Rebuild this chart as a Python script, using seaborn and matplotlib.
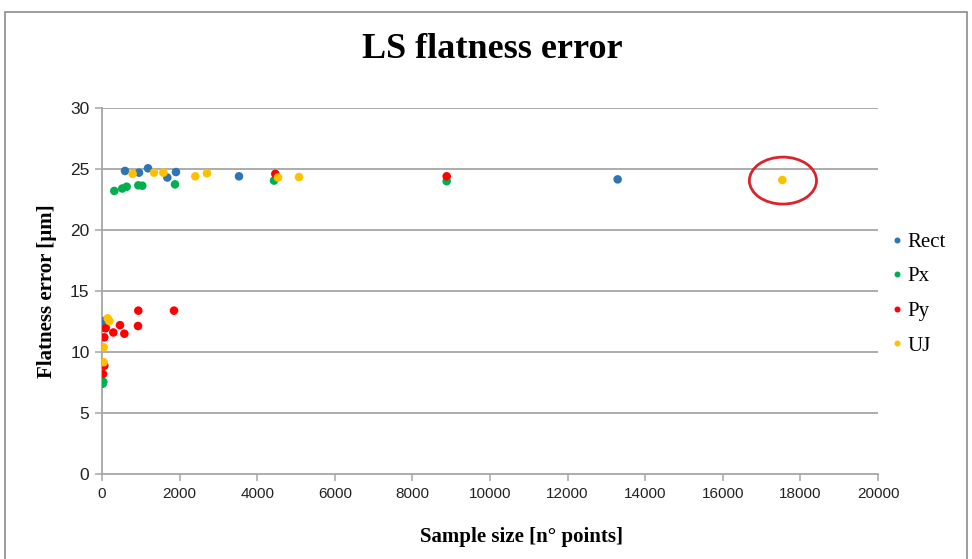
import numpy as np
import pandas as pd
import matplotlib
matplotlib.use("Agg")
import matplotlib.pyplot as plt
from matplotlib.patches import Ellipse, Rectangle
import seaborn as sns

# Sample size [n° points] and LS flatness error [µm] for each sampling strategy
rect_n = [60, 593, 953, 1186, 1684, 1907, 3531, 13290]
rect_err = [12.55, 24.84, 24.7, 25.06, 24.3, 24.75, 24.4, 24.15]

px_n = [20, 34, 100, 317, 523, 636, 936, 1039, 1881, 4433, 8884]
px_err = [7.4, 7.55, 12.0, 23.2, 23.4, 23.55, 23.66, 23.63, 23.74, 24.05, 24.0]

py_n = [26, 60, 60, 86, 292, 464, 576, 928, 936, 1856, 4467, 8884]
py_err = [8.2, 8.88, 11.2, 11.94, 11.6, 12.2, 11.5, 12.13, 13.39, 13.39, 24.6, 24.4]

uj_n = [43, 43, 146, 189, 790, 1340, 1581, 2405, 2706, 4536, 5077, 17534]
uj_err = [9.16, 10.39, 12.76, 12.54, 24.6, 24.7, 24.7, 24.4, 24.65, 24.3, 24.34, 24.1]

series = ["Rect", "Px", "Py", "UJ"]
colors = ["#2E75B6", "#00B050", "#FF0000", "#FFC000"]

x_ticks = list(range(0, 20001, 2000))
y_ticks = list(range(0, 31, 5))

df = pd.concat([
    pd.DataFrame({"n": rect_n, "err": rect_err, "method": "Rect"}),
    pd.DataFrame({"n": px_n, "err": px_err, "method": "Px"}),
    pd.DataFrame({"n": py_n, "err": py_err, "method": "Py"}),
    pd.DataFrame({"n": uj_n, "err": uj_err, "method": "UJ"}),
], ignore_index=True)

sns.set_theme(style="white")
plt.rcParams["font.family"] = ["Liberation Sans", "DejaVu Sans"]
plt.rcParams["text.color"] = "black"

fig = plt.figure(figsize=(9.72, 5.59), dpi=100)
ax = fig.add_axes([102 / 972, 1 - 474 / 559, 776 / 972, 366 / 559])

sns.scatterplot(data=df, x="n", y="err", hue="method", hue_order=series,
                palette=colors, s=38, edgecolor="none", ax=ax, legend=True,
                zorder=3)

ax.set_xlim(0, 20000)
ax.set_ylim(0, 30)
ax.set_xticks(x_ticks)
ax.set_yticks(y_ticks)
ax.set_xticklabels([str(t) for t in x_ticks], fontsize=11, color="#222222")
ax.set_yticklabels([str(t) for t in y_ticks], fontsize=12.5, color="#222222")

grid_col = "#A6A6A6"
for yv in y_ticks[1:]:
    ax.axhline(yv, color=grid_col, lw=1.3, zorder=1)
for side in ["top", "right"]:
    ax.spines[side].set_visible(False)
for side in ["left", "bottom"]:
    ax.spines[side].set_color(grid_col)
    ax.spines[side].set_linewidth(1.3)
ax.tick_params(axis="both", which="major", direction="out", length=5,
               width=1.1, color=grid_col, bottom=True, left=True, pad=4)

serif = ["Liberation Serif", "DejaVu Serif"]
ax.set_xlabel("Sample size [n° points]", fontsize=15, fontweight="bold",
              family=serif, color="black")
ax.xaxis.set_label_coords((521 - 102) / 776, -(537 - 474) / 366)
ax.xaxis.label.set_va("center")
ax.set_ylabel("Flatness error [µm]", fontsize=15, fontweight="bold",
              family=serif, color="black")
ax.yaxis.set_label_coords(-(102 - 47) / 776, 0.5)
ax.yaxis.label.set_va("center")
fig.text(492 / 972, 1 - 50 / 559, "LS flatness error", ha="center", va="center",
         fontsize=26, fontweight="bold", family=serif, color="black")

# Highlight the largest UJ sample
ax.add_patch(Ellipse((17550, 24.05), width=1730, height=3.85, fill=False,
                     edgecolor="#D9232D", lw=2, zorder=4))

handles, labels = ax.get_legend_handles_labels()
leg = ax.legend(handles, labels, loc="center left",
                bbox_to_anchor=(876 / 972, 1 - 294 / 559),
                bbox_transform=fig.transFigure, frameon=False,
                prop={"family": serif, "size": 15}, markerscale=0.7,
                handletextpad=0.0, labelspacing=0.72, handlelength=1.0,
                borderpad=0.0)
for t in leg.get_texts():
    t.set_color("black")

# Chart border
fig.patches.append(Rectangle((5 / 972, -0.01), 962 / 972, 1 - 12 / 559 + 0.01,
                             transform=fig.transFigure, fill=False,
                             edgecolor="#8C8C8C", lw=1.2))

fig.savefig("out.png", dpi=100)
